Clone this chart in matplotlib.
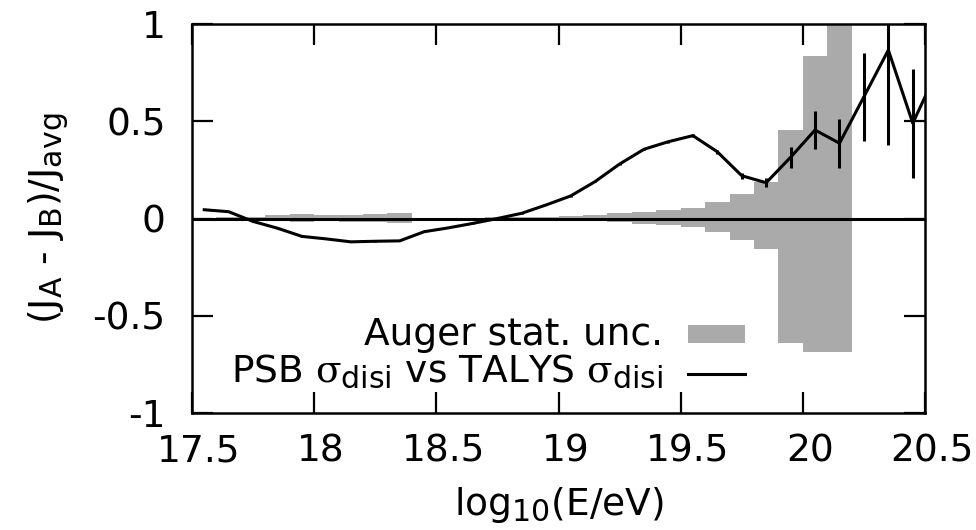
import matplotlib as mpl
mpl.use('Agg')
import numpy as np
import matplotlib.pyplot as plt
import matplotlib._mathtext as mathtext_internal
from matplotlib.patches import Rectangle
from matplotlib.lines import Line2D
from matplotlib.transforms import ScaledTranslation

mpl.rcParams.update({
    'font.family': 'DejaVu Sans',
    'font.size': 27,
    'mathtext.fontset': 'custom',
    'mathtext.rm': 'DejaVu Sans',
    'mathtext.it': 'DejaVu Serif',
    'mathtext.bf': 'DejaVu Sans:bold',
    'mathtext.default': 'regular',
})
# gnuplot-like (bigger) subscripts
mathtext_internal.SHRINK_FACTOR = 0.8

# Auger statistical uncertainty, 0.1-wide bins in log10(E/eV)
bin_left = [17.6, 17.7, 17.8, 17.9, 18.0, 18.1, 18.2, 18.3,
            18.4, 18.5, 18.6, 18.7, 18.8, 18.9, 19.0, 19.1, 19.2, 19.3,
            19.4, 19.5, 19.6, 19.7, 19.8, 19.9, 20.0, 20.1]
unc_hi = [0.008, 0.008, 0.018, 0.025, 0.018, 0.020, 0.022, 0.030,
          0.004, 0.004, 0.005, 0.006, 0.007, 0.010, 0.015, 0.018, 0.026, 0.035,
          0.045, 0.055, 0.085, 0.125, 0.190, 0.455, 0.835, 1.200]
unc_lo = [-0.008, -0.008, -0.015, -0.020, -0.015, -0.017, -0.020, -0.025,
          -0.004, -0.004, -0.005, -0.006, -0.007, -0.008, -0.012, -0.014, -0.020, -0.028,
          -0.035, -0.045, -0.070, -0.110, -0.158, -0.640, -0.685, -0.685]

# PSB vs TALYS relative difference
logE = [17.55, 17.65, 17.75, 17.85, 17.95, 18.05, 18.15, 18.25, 18.35, 18.45,
        18.55, 18.65, 18.75, 18.85, 18.95, 19.05, 19.15, 19.25, 19.35, 19.45,
        19.55, 19.65, 19.75, 19.85, 19.95, 20.05, 20.15, 20.25, 20.35, 20.45, 20.55]
rel_diff = [0.045, 0.035, -0.015, -0.050, -0.092, -0.105, -0.120, -0.117, -0.115, -0.068,
            -0.048, -0.025, 0.000, 0.027, 0.070, 0.116, 0.190, 0.280, 0.356, 0.395,
            0.426, 0.343, 0.220, 0.184, 0.315, 0.455, 0.387, 0.626, 0.866, 0.490, 0.760]
rel_err = [0.002, 0.002, 0.002, 0.002, 0.002, 0.002, 0.002, 0.002, 0.002, 0.002,
           0.002, 0.002, 0.002, 0.003, 0.003, 0.004, 0.004, 0.005, 0.006, 0.006,
           0.008, 0.010, 0.015, 0.022, 0.055, 0.100, 0.125, 0.225, 0.490, 0.280, 0.350]

grey = '#aaaaaa'

fig = plt.figure(figsize=(9.76, 5.30), dpi=100)
ax = fig.add_axes([192/976, 1 - 413/530, 733/976, 389/530])

ax.bar(bin_left, np.array(unc_hi) - np.array(unc_lo), width=0.1, bottom=unc_lo,
       align='edge', color=grey, linewidth=0, zorder=1)
ax.axhline(0, color='black', lw=2.2, zorder=2)
ax.errorbar(logE, rel_diff, yerr=rel_err, color='black', lw=2.2, elinewidth=2.2,
            capsize=0, zorder=3)

ax.set_xlim(17.5, 20.5)
ax.set_ylim(-1, 1)
ax.set_xticks(np.arange(17.5, 20.51, 0.5))
ax.set_xticklabels(['17.5', '18', '18.5', '19', '19.5', '20', '20.5'])
ax.set_yticks([-1, -0.5, 0, 0.5, 1])
ax.set_yticklabels(['-1', '-0.5', '0', '0.5', '1'])
ax.tick_params(direction='in', length=15, width=1.6, top=True, right=True)
ax.tick_params(axis='x', pad=15)
ax.tick_params(axis='y', pad=19)
for s in ax.spines.values():
    s.set_linewidth(1.8)

# gnuplot places the x tick labels a little to the right of the ticks
shift = ScaledTranslation(0.07, 0, fig.dpi_scale_trans)
for lab in ax.get_xticklabels():
    lab.set_transform(lab.get_transform() + shift)

ax.set_xlabel('log$_{10}$(E/eV)', labelpad=11)
ax.set_ylabel('(J$_{A}$ - J$_{B}$)/J$_{avg}$', labelpad=16)

# key, right-justified text with sample on the right (gnuplot style)
ax.text(0.643, 0.175, 'Auger stat. unc.', transform=ax.transAxes,
        ha='right', va='baseline')
ax.add_patch(Rectangle((0.677, 0.18), 0.077, 0.046, transform=ax.transAxes,
                       color=grey, lw=0, zorder=4))
ax.text(0.643, 0.08, r'PSB $\mathit{\sigma}_{disi}$ vs TALYS $\mathit{\sigma}_{disi}$',
        transform=ax.transAxes, ha='right', va='baseline')
ax.add_line(Line2D([0.677, 0.754], [0.1, 0.1], transform=ax.transAxes,
                   color='black', lw=2.2, zorder=4))

fig.savefig('out.png', dpi=100)
